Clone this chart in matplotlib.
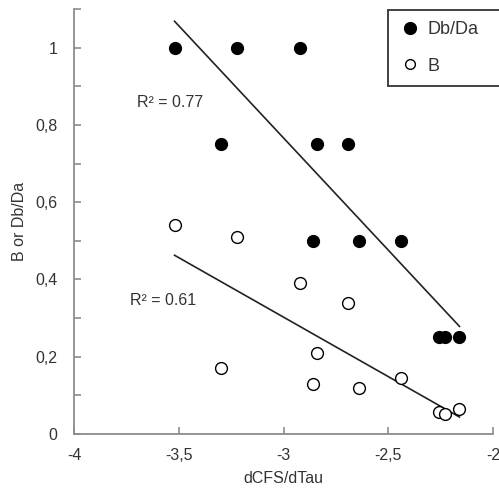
import numpy as np
import matplotlib
matplotlib.use("Agg")
import matplotlib.pyplot as plt
from matplotlib.ticker import MultipleLocator, FuncFormatter

plt.rcParams['font.family'] = ['Liberation Sans', 'DejaVu Sans']

# Data
x_vals = [-3.52, -3.22, -2.92, -3.30, -2.84, -2.69, -2.86, -2.64, -2.44, -2.26, -2.23, -2.16]
dbda_vals = [1.00, 1.00, 1.00, 0.75, 0.75, 0.75, 0.50, 0.50, 0.50, 0.25, 0.25, 0.25]
b_vals = [0.54, 0.51, 0.39, 0.17, 0.21, 0.34, 0.13, 0.12, 0.145, 0.058, 0.052, 0.066]
series_labels = ["Db/Da", "B"]
r2_labels = ["R² = 0.77", "R² = 0.61"]
x_ticks = [-4, -3.5, -3, -2.5, -2]
y_ticks = [0, 0.2, 0.4, 0.6, 0.8, 1.0]

W, H = 499, 492
fig = plt.figure(figsize=(W / 100, H / 100), dpi=100)
ax = fig.add_axes([74 / W, 1 - 434 / H, (493 - 74) / W, (434 - 9) / H])

text_col = '#333333'
spine_col = '#8c8c8c'

x = np.array(x_vals)
for yv, fc in [(dbda_vals, 'black'), (b_vals, 'white')]:
    ax.plot(x, yv, linestyle='none', marker='o', markersize=8.5,
            markerfacecolor=fc, markeredgecolor='black', markeredgewidth=1.0,
            zorder=3, clip_on=False)

# linear trendlines
for yv in [dbda_vals, b_vals]:
    p = np.polyfit(x, np.array(yv), 1)
    xs = np.array([x.min(), x.max()])
    ax.plot(xs, np.polyval(p, xs), color='#222222', lw=1.2, zorder=2)

ax.set_xlim(-4, -2)
ax.set_ylim(0, 1.1)
ax.set_xticks(x_ticks)
ax.set_yticks(y_ticks)
ax.yaxis.set_minor_locator(MultipleLocator(0.1))
fmt = FuncFormatter(lambda v, pos: ('%g' % v).replace('.', ','))
ax.xaxis.set_major_formatter(fmt)
ax.yaxis.set_major_formatter(fmt)

for s in ['top', 'right']:
    ax.spines[s].set_visible(False)
for s in ['left', 'bottom']:
    ax.spines[s].set_color(spine_col)
    ax.spines[s].set_linewidth(1.3)

ax.tick_params(axis='both', which='both', direction='in', color=spine_col,
               width=1.2, labelsize=11.5, labelcolor=text_col)
ax.tick_params(axis='both', which='major', length=5)
ax.tick_params(axis='both', which='minor', length=5)
ax.tick_params(axis='y', pad=12)
ax.tick_params(axis='x', pad=10)

ax.set_xlabel('dCFS/dTau', fontsize=11.5, color=text_col, labelpad=6)
ax.set_ylabel('B or Db/Da', fontsize=11.5, color=text_col, labelpad=6)

ax.text(-3.70, 0.858, r2_labels[0], fontsize=11.5, color=text_col, ha='left', va='center')
ax.text(-3.735, 0.345, r2_labels[1], fontsize=11.5, color=text_col, ha='left', va='center')

h1 = ax.plot([], [], linestyle='none', marker='o', markersize=8.5, markerfacecolor='black',
             markeredgecolor='black')[0]
h2 = ax.plot([], [], linestyle='none', marker='o', markersize=7, markerfacecolor='white',
             markeredgecolor='black')[0]
leg = fig.legend([h1, h2], series_labels, loc='upper left',
                 bbox_to_anchor=(388 / W, 1 - 10 / H, 130 / W, 0), bbox_transform=fig.transFigure,
                 mode='expand',
                 fancybox=False, frameon=True, edgecolor='black', fontsize=13,
                 labelspacing=1.1, handletextpad=0.4, borderpad=0.6,
                 handlelength=1.2, borderaxespad=0)
leg.get_frame().set_linewidth(1.3)
for t in leg.get_texts():
    t.set_color(text_col)

fig.savefig('out.png', dpi=100)
